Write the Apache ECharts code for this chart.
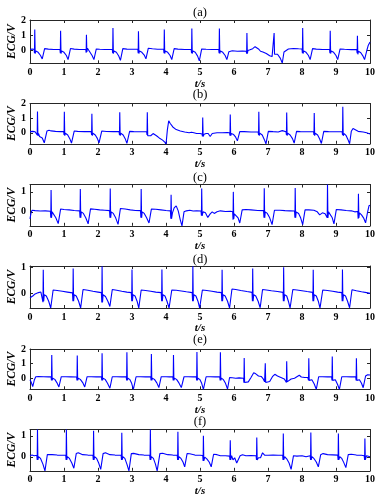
<!DOCTYPE html>
<html><head><meta charset="utf-8">
<script src="https://cdn.jsdelivr.net/npm/echarts@6/dist/echarts.min.js"></script>
<style>html,body{margin:0;padding:0;background:#fff}#c{width:382px;height:503px}</style>
</head><body><div id="c"></div>
<script>
// ---- data ----
const panelTitles = ['(a)', '(b)', '(c)', '(d)', '(e)', '(f)'];
const xTicks = [0, 1, 2, 3, 4, 5, 6, 7, 8, 9, 10];
const xName = 't/s';
const yName = 'ECG/V';
const yTicksA = [0, 1, 2];
const yTicksB = [0, 1, 2];
const yTicksC = [0, 1];
const yTicksD = [0, 1];
const yTicksE = [0, 1, 2];
const yTicksF = [0, 1];
const yRangeA = [-0.84, 2];
const yRangeB = [-0.75, 2];
const yRangeC = [-0.7, 1.37];
const yRangeD = [-0.56, 1.05];
const yRangeE = [-0.76, 2];
const yRangeF = [-0.67, 1.3];

const ecgA = [[0,0.07],[0.06,0.09],[0.12,0.08],[0.132,-0.18],[0.14,1.37],[0.152,-0.2],[0.17,-0.03],[0.24,-0.12],[0.31,-0.33],[0.36,-0.55],[0.43,0.12],[0.54,0.09],[0.7,0.07],[0.88,0.08],
[0.892,-0.18],[0.9,1.3],[0.912,-0.2],[0.93,-0.03],[1,-0.12],[1.07,-0.33],[1.12,-0.6],[1.19,0.13],[1.3,0.09],[1.45,0.07],[1.64,0.08],
[1.652,-0.15],[1.66,1.03],[1.672,-0.1],[1.69,0.15],[1.71,0.05],[1.76,-0.1],[1.83,-0.35],[1.88,-0.6],[1.95,0.1],[2.05,0.08],[2.2,0.07],[2.42,0.08],
[2.432,-0.18],[2.44,1.48],[2.452,-0.2],[2.47,-0.03],[2.54,-0.12],[2.61,-0.36],[2.66,-0.65],[2.73,0.12],[2.85,0.09],[3,0.08],[3.17,0.1],
[3.182,-0.18],[3.19,1.26],[3.202,-0.2],[3.22,-0.03],[3.29,-0.12],[3.36,-0.3],[3.41,-0.55],[3.48,0.15],[3.6,0.11],[3.75,0.08],[3.93,0.08],
[3.942,-0.18],[3.95,1.37],[3.962,-0.2],[3.98,-0.03],[4.05,-0.12],[4.12,-0.33],[4.17,-0.6],[4.24,0.12],[4.35,0.09],[4.55,0.07],[4.74,0.08],
[4.752,-0.18],[4.76,1.44],[4.772,-0.2],[4.79,-0.03],[4.86,-0.12],[4.93,-0.37],[4.98,-0.68],[5.05,0.1],[5.18,0.08],[5.35,0.07],[5.55,0.08],
[5.562,-0.18],[5.57,1.44],[5.582,-0.2],[5.6,-0.03],[5.67,-0.12],[5.74,-0.33],[5.79,-0.6],[5.85,-0.08],[5.95,-0.02],[6.1,-0.05],[6.25,-0.03],[6.36,-0.05],
[6.372,-0.2],[6.38,1.15],[6.392,-0.2],[6.41,0],[6.47,0.05],[6.55,0.12],[6.62,0.25],[6.67,0.24],[6.72,0.1],[6.78,-0.05],[6.85,-0.1],[6.95,-0.2],[7.05,-0.35],[7.12,-0.4],[7.16,-0.38],
[7.172,-0.45],[7.18,1.15],[7.192,-0.25],[7.21,-0.15],[7.28,-0.25],[7.36,-0.5],[7.42,-0.82],[7.47,-0.1],[7.52,0.03],[7.6,0.1],[7.75,0.13],[7.9,0.11],[8,0.1],
[8.012,-0.18],[8.02,1.48],[8.032,-0.2],[8.05,-0.03],[8.12,-0.12],[8.19,-0.33],[8.24,-0.6],[8.31,0.12],[8.42,0.09],[8.6,0.07],[8.81,0.08],
[8.822,-0.18],[8.83,1.3],[8.842,-0.2],[8.86,-0.03],[8.93,-0.12],[9,-0.33],[9.05,-0.6],[9.12,0.1],[9.25,0.08],[9.45,0.06],[9.61,0.07],
[9.622,-0.18],[9.63,0.97],[9.642,-0.25],[9.66,-0.05],[9.73,-0.15],[9.79,-0.35],[9.84,-0.6],[9.9,-0.05],[9.95,0.35],[10,0.55]];

const ecgB = [[0,0.08],[0.08,0.1],[0.15,0.07],[0.2,0.08],
[0.212,-0.15],[0.22,1.45],[0.232,-0.2],[0.25,-0.05],[0.28,-0.25],[0.3,-0.15],[0.36,-0.35],[0.42,-0.68],[0.5,0.13],[0.56,0.17],[0.62,0.13],[0.75,0.1],[0.9,0.08],[0.99,0.08],
[1.002,-0.15],[1.01,1.43],[1.022,-0.2],[1.04,-0.03],[1.11,-0.15],[1.17,-0.4],[1.22,-0.7],[1.3,0.12],[1.4,0.1],[1.6,0.08],[1.8,0.08],
[1.812,-0.15],[1.82,1.3],[1.832,-0.2],[1.85,-0.03],[1.92,-0.15],[1.98,-0.38],[2.03,-0.68],[2.11,0.12],[2.25,0.09],[2.45,0.08],[2.62,0.08],
[2.632,-0.15],[2.64,1.4],[2.652,-0.2],[2.67,-0.03],[2.74,-0.15],[2.8,-0.4],[2.85,-0.72],[2.93,0.1],[3.05,0.08],[3.25,0.07],[3.43,0.08],
[3.442,-0.15],[3.45,1.4],[3.462,-0.2],[3.5,-0.1],[3.55,-0.2],[3.62,-0.05],[3.67,-0.02],[3.72,-0.2],[3.8,-0.35],[3.9,-0.5],[3.97,-0.65],[4,-0.8],[4.04,0.2],[4.08,0.82],[4.12,0.65],[4.2,0.4],[4.3,0.22],[4.42,0.12],[4.55,0.05],[4.68,0],[4.75,0.04],[4.82,0],[4.9,-0.05],[5,-0.05],[5.06,-0.08],
[5.072,-0.25],[5.08,1.05],[5.092,-0.25],[5.12,-0.1],[5.18,-0.05],[5.24,-0.05],[5.3,-0.25],[5.36,-0.05],[5.5,0],[5.65,0],[5.8,0.02],[5.87,0],
[5.882,-0.2],[5.89,1.25],[5.902,-0.2],[5.92,-0.05],[5.99,-0.12],[6.05,-0.3],[6.1,-0.55],[6.17,0.08],[6.3,0.08],[6.5,0.06],[6.71,0.07],
[6.722,-0.15],[6.73,1.43],[6.742,-0.2],[6.76,-0.03],[6.83,-0.15],[6.89,-0.45],[6.94,-0.75],[7.01,0.1],[7.15,0.08],[7.3,0.06],[7.42,0.15],[7.47,0.06],[7.53,0.07],
[7.542,-0.15],[7.55,1.38],[7.562,-0.2],[7.58,-0.03],[7.65,-0.15],[7.72,-0.4],[7.77,-0.7],[7.84,0.1],[7.95,0.08],[8.15,0.07],[8.34,0.07],
[8.352,-0.15],[8.36,1.35],[8.372,-0.2],[8.39,-0.03],[8.46,-0.15],[8.52,-0.42],[8.57,-0.73],[8.64,0.1],[8.78,0.08],[9,0.07],[9.18,0.08],
[9.192,-0.15],[9.2,1.77],[9.212,-0.2],[9.24,-0.05],[9.3,-0.2],[9.35,-0.45],[9.4,-0.75],[9.45,0.1],[9.5,0.3],[9.55,0.22],[9.65,0.1],[9.8,0.05],[9.9,0],[10,-0.08]];

const ecgC = [[0,-0.35],[0.03,-0.05],[0.06,0.08],[0.15,0.06],[0.3,0.04],[0.45,0.05],[0.6,0.03],
[0.612,-0.3],[0.62,1.09],[0.632,-0.3],[0.65,0],[0.7,-0.05],[0.76,-0.3],[0.83,-0.59],[0.9,0.14],[1,0.12],[1.15,0.1],[1.3,0.07],[1.46,0.05],
[1.472,-0.3],[1.48,1.14],[1.492,-0.3],[1.51,0],[1.57,-0.08],[1.64,-0.3],[1.71,-0.6],[1.78,0.15],[1.9,0.13],[2.05,0.1],[2.2,0.08],[2.34,0.06],
[2.352,-0.3],[2.36,1.17],[2.372,-0.3],[2.39,0],[2.45,-0.08],[2.52,-0.3],[2.59,-0.63],[2.66,0.17],[2.8,0.14],[2.95,0.1],[3.1,0.07],[3.25,0.06],
[3.262,-0.3],[3.27,1.14],[3.282,-0.3],[3.3,0],[3.36,-0.08],[3.43,-0.3],[3.5,-0.56],[3.57,0.14],[3.7,0.13],[3.85,0.1],[4,0.07],[4.13,0.05],
[4.142,-0.35],[4.15,0.86],[4.162,-0.35],[4.19,-0.05],[4.24,0.2],[4.3,0.3],[4.36,0.05],[4.42,-0.4],[4.47,-0.7],[4.53,0],[4.6,0.05],[4.7,0.08],[4.8,0.04],[4.9,0.05],[5.03,0.04],
[5.042,-0.2],[5.05,1.17],[5.062,-0.2],[5.09,0],[5.16,-0.05],[5.23,-0.28],[5.3,-0.1],[5.36,0],[5.42,-0.08],[5.5,0],[5.6,0.05],[5.75,0.02],[5.9,0.03],[5.96,0],
[5.972,-0.4],[5.98,1],[5.992,-0.35],[6.01,-0.1],[6.06,-0.12],[6.12,-0.3],[6.17,-0.56],[6.24,0.1],[6.35,0.12],[6.5,0.1],[6.7,0.07],[6.87,0.06],
[6.882,-0.3],[6.89,1.18],[6.902,-0.3],[6.92,0],[6.98,-0.08],[7.05,-0.3],[7.12,-0.64],[7.19,0.08],[7.35,0.08],[7.5,0.06],[7.65,0.05],[7.78,0.04],
[7.792,-0.3],[7.8,1.2],[7.812,-0.3],[7.83,0],[7.9,-0.08],[7.96,-0.3],[8.02,-0.64],[8.09,0.1],[8.2,0.1],[8.35,0.08],[8.45,0],[8.52,-0.15],[8.6,-0.05],[8.68,-0.1],[8.73,-0.05],
[8.742,-0.3],[8.75,1.37],[8.762,-0.3],[8.78,0],[8.83,-0.08],[8.89,-0.3],[8.94,-0.6],[9.01,0.12],[9.15,0.1],[9.3,0.07],[9.45,0.05],[9.55,0],[9.64,0.02],
[9.652,-0.35],[9.66,0.9],[9.672,-0.3],[9.69,-0.05],[9.75,-0.15],[9.81,-0.3],[9.87,-0.55],[9.93,0],[9.97,0.3],[10,0.33]];

const ecgD = [[0,-0.17],[0.08,-0.1],[0.15,-0.02],[0.25,0.03],[0.32,0.05],[0.37,0.02],
[0.382,-0.34],[0.39,0.91],[0.402,-0.3],[0.42,-0.05],[0.48,-0.1],[0.55,-0.3],[0.61,-0.56],[0.68,0.13],[0.8,0.11],[0.95,0.08],[1.1,0.05],[1.25,0.02],
[1.262,-0.3],[1.27,0.95],[1.282,-0.3],[1.3,-0.05],[1.36,-0.1],[1.43,-0.3],[1.49,-0.56],[1.56,0.15],[1.7,0.12],[1.85,0.08],[2,0.05],[2.1,0.03],
[2.112,-0.35],[2.12,1.04],[2.132,-0.35],[2.15,-0.05],[2.22,-0.12],[2.29,-0.3],[2.35,-0.5],[2.42,0.15],[2.55,0.12],[2.7,0.08],[2.85,0.05],[2.98,0.03],
[2.992,-0.3],[3,0.92],[3.012,-0.3],[3.03,-0.05],[3.09,-0.1],[3.15,-0.3],[3.2,-0.56],[3.27,0.13],[3.4,0.11],[3.55,0.08],[3.7,0.05],[3.86,0.03],
[3.872,-0.3],[3.88,0.92],[3.892,-0.3],[3.91,-0.05],[3.97,-0.1],[4.03,-0.3],[4.09,-0.56],[4.17,0.13],[4.3,0.12],[4.45,0.09],[4.6,0.06],[4.77,0.03],
[4.782,-0.3],[4.79,1.04],[4.802,-0.3],[4.82,-0.05],[4.88,-0.1],[4.94,-0.3],[4.99,-0.56],[5.07,0.13],[5.2,0.11],[5.35,0.08],[5.5,0.05],[5.63,0.03],
[5.642,-0.3],[5.65,0.91],[5.662,-0.3],[5.68,-0.05],[5.74,-0.1],[5.81,-0.3],[5.87,-0.56],[5.94,0.17],[6.05,0.15],[6.2,0.11],[6.38,0.07],[6.53,0.04],
[6.542,-0.3],[6.55,0.95],[6.562,-0.3],[6.58,-0.05],[6.64,-0.1],[6.71,-0.3],[6.77,-0.55],[6.84,0.15],[6.95,0.13],[7.1,0.1],[7.28,0.07],[7.44,0.04],
[7.452,-0.3],[7.46,1],[7.472,-0.3],[7.49,-0.05],[7.55,-0.1],[7.6,-0.3],[7.65,-0.56],[7.73,0.15],[7.85,0.13],[8,0.1],[8.15,0.07],[8.31,0.04],
[8.322,-0.3],[8.33,0.91],[8.342,-0.3],[8.36,-0.05],[8.42,-0.1],[8.48,-0.3],[8.53,-0.56],[8.61,0.13],[8.75,0.11],[8.9,0.08],[9.05,0.05],[9.17,0.03],
[9.182,-0.3],[9.19,0.92],[9.202,-0.3],[9.22,-0.05],[9.28,-0.1],[9.34,-0.3],[9.4,-0.55],[9.47,0.14],[9.6,0.1],[9.75,0.06],[9.9,0.03],[10,0]];

const ecgE = [[0,-0.1],[0.04,-0.3],[0.08,-0.57],[0.13,-0.1],[0.17,0.1],[0.25,0.12],[0.4,0.1],[0.55,0.09],[0.62,0.1],
[0.632,-0.15],[0.64,1.59],[0.652,-0.15],[0.67,0],[0.73,-0.08],[0.79,-0.3],[0.85,-0.6],[0.92,0.1],[1.05,0.1],[1.2,0.09],[1.37,0.08],
[1.382,-0.15],[1.39,1.55],[1.402,-0.15],[1.42,0],[1.48,-0.08],[1.55,-0.3],[1.61,-0.6],[1.68,0.1],[1.8,0.1],[1.95,0.09],[2.1,0.1],
[2.112,-0.15],[2.12,1.7],[2.132,-0.15],[2.15,0],[2.21,-0.08],[2.28,-0.35],[2.35,-0.68],[2.42,0.1],[2.55,0.1],[2.7,0.09],[2.83,0.1],
[2.842,-0.15],[2.85,1.77],[2.862,-0.15],[2.88,0],[2.94,-0.1],[2.99,-0.35],[3.04,-0.76],[3.12,0.1],[3.25,0.1],[3.4,0.09],[3.55,0.1],
[3.562,-0.15],[3.57,1.66],[3.582,-0.15],[3.6,0],[3.66,-0.08],[3.73,-0.32],[3.79,-0.64],[3.86,0.1],[4,0.1],[4.1,0.09],[4.2,0.1],
[4.212,-0.15],[4.22,1.59],[4.232,-0.15],[4.25,0],[4.31,-0.08],[4.38,-0.32],[4.45,-0.64],[4.53,0.1],[4.65,0.1],[4.8,0.09],[4.89,0.1],
[4.902,-0.15],[4.91,1.8],[4.922,-0.15],[4.94,0],[5,-0.1],[5.05,-0.35],[5.1,-0.76],[5.18,0.1],[5.3,0.1],[5.45,0.09],[5.58,0.1],
[5.592,-0.15],[5.6,1.77],[5.612,-0.15],[5.63,0],[5.69,-0.1],[5.75,-0.35],[5.81,-0.74],[5.87,0.05],[5.95,0.03],[6.05,0],[6.15,0.02],[6.28,0],
[6.292,-0.3],[6.3,1.38],[6.312,-0.3],[6.35,-0.22],[6.42,-0.25],[6.5,0.05],[6.58,0.37],[6.64,0.3],[6.72,0.15],[6.8,0.12],[6.86,-0.05],[6.9,-0.25],
[6.912,-0.3],[6.92,1.02],[6.932,-0.3],[6.98,-0.2],[7.05,-0.22],[7.13,0.1],[7.2,0.27],[7.28,0.15],[7.38,0.05],[7.48,-0.05],[7.53,-0.15],
[7.542,-0.3],[7.55,1.16],[7.562,-0.25],[7.6,-0.15],[7.68,-0.05],[7.78,0],[7.85,0.1],[7.92,0.2],[7.98,0.08],[8.08,0.05],[8.17,0.05],
[8.192,-0.15],[8.2,1.36],[8.212,-0.15],[8.23,-0.02],[8.29,-0.1],[8.36,-0.4],[8.42,-0.76],[8.49,0.1],[8.6,0.1],[8.75,0.09],[8.87,0.1],
[8.882,-0.15],[8.89,1.48],[8.902,-0.15],[8.92,-0.02],[8.98,-0.1],[9.04,-0.4],[9.1,-0.76],[9.17,0.1],[9.3,0.1],[9.45,0.09],[9.58,0.1],
[9.592,-0.15],[9.6,1.36],[9.612,-0.15],[9.63,-0.02],[9.69,-0.1],[9.75,-0.35],[9.8,-0.65],[9.87,0.15],[9.93,0.24],[10,0.22]];

const ecgF = [[0,0.05],[0.06,0.08],[0.12,0.05],[0.2,0.07],
[0.212,-0.15],[0.22,1.3],[0.232,-0.15],[0.25,0],[0.31,-0.08],[0.38,-0.35],[0.44,-0.67],[0.51,0.1],[0.56,0.16],[0.65,0.1],[0.8,0.08],[0.95,0.07],[1.05,0.08],
[1.062,-0.15],[1.07,1.3],[1.082,-0.15],[1.1,0],[1.16,-0.08],[1.23,-0.3],[1.29,-0.55],[1.36,0.15],[1.42,0.19],[1.55,0.1],[1.7,0.08],[1.85,0.07],
[1.862,-0.15],[1.87,1.24],[1.882,-0.15],[1.9,0],[1.96,-0.08],[2.02,-0.3],[2.08,-0.6],[2.15,0.15],[2.22,0.19],[2.35,0.1],[2.5,0.08],[2.68,0.07],
[2.692,-0.15],[2.7,1.14],[2.712,-0.15],[2.73,0],[2.79,-0.08],[2.85,-0.35],[2.91,-0.67],[2.98,0.15],[3.05,0.16],[3.2,0.1],[3.35,0.08],[3.52,0.07],
[3.532,-0.15],[3.54,1.3],[3.552,-0.15],[3.57,0],[3.63,-0.08],[3.69,-0.35],[3.74,-0.67],[3.82,0.15],[3.9,0.17],[4.05,0.1],[4.2,0.08],[4.33,0.07],
[4.342,-0.15],[4.35,1.19],[4.362,-0.15],[4.38,0],[4.44,-0.08],[4.5,-0.25],[4.55,-0.48],[4.62,0.15],[4.7,0.14],[4.85,0.08],[5,0.07],[5.08,0.06],
[5.092,-0.2],[5.1,1],[5.112,-0.2],[5.14,-0.02],[5.2,-0.1],[5.27,-0.25],[5.33,-0.48],[5.4,0.12],[5.5,0.1],[5.6,0.05],[5.75,0.05],[5.87,0.03],
[5.882,-0.15],[5.89,0.79],[5.902,-0.15],[5.93,0.05],[5.97,-0.15],[6.02,-0.05],[6.08,-0.3],[6.12,-0.35],[6.18,0.05],[6.25,0.1],[6.35,0.05],[6.5,0.06],[6.65,0.05],
[6.662,-0.15],[6.67,0.92],[6.682,-0.15],[6.72,-0.05],[6.78,-0.05],[6.84,0.19],[6.9,0.08],[7,0.07],[7.15,0.08],[7.3,0.07],[7.43,0.08],
[7.442,-0.15],[7.45,1.11],[7.462,-0.15],[7.49,0],[7.55,-0.1],[7.62,-0.3],[7.68,-0.6],[7.75,0.05],[7.85,0.03],[8,0.05],[8.12,0],[8.24,0.05],
[8.252,-0.15],[8.26,1.16],[8.272,-0.15],[8.29,0],[8.35,-0.08],[8.42,-0.25],[8.48,-0.48],[8.55,0.1],[8.62,0.15],[8.75,0.1],[8.9,0.09],[9.05,0.08],
[9.062,-0.15],[9.07,1.11],[9.082,-0.15],[9.11,0],[9.17,-0.08],[9.23,-0.28],[9.29,-0.52],[9.36,0.1],[9.45,0.12],[9.6,0.08],[9.75,0.07],[9.83,0.05],
[9.842,-0.15],[9.85,0.87],[9.862,-0.15],[9.9,0.05],[9.95,0.07],[10,0]];

// ---- layout ----
const panels = [
  { data: ecgA, ticks: yTicksA, range: yRangeA, top: 20,    height: 43.3, titleY: 6.5 },
  { data: ecgB, ticks: yTicksB, range: yRangeB, top: 103.5, height: 40.3, titleY: 88.5 },
  { data: ecgC, ticks: yTicksC, range: yRangeC, top: 184.5, height: 41.3, titleY: 171.5 },
  { data: ecgD, ticks: yTicksD, range: yRangeD, top: 266,   height: 42,   titleY: 253.5 },
  { data: ecgE, ticks: yTicksE, range: yRangeE, top: 349,   height: 40.3, titleY: 333.5 },
  { data: ecgF, ticks: yTicksF, range: yRangeF, top: 429.5, height: 41.3, titleY: 415 }
];
const LEFT = 30, WIDTH = 340;
const AX = '#262626';
const SERIF = '"Liberation Serif","Times New Roman",serif';

const grid = [], xAxis = [], yAxis = [], series = [], title = [];
panels.forEach((p, i) => {
  grid.push({ left: LEFT, top: p.top, width: WIDTH, height: p.height, containLabel: false, outerBoundsMode: 'none' });
  title.push({ text: panelTitles[i], left: LEFT + WIDTH / 2, top: p.titleY, textAlign: 'center', padding: 0,
    textStyle: { fontFamily: SERIF, fontSize: 12.5, fontWeight: 'normal', color: '#000' } });
  const xCommon = { type: 'value', gridIndex: i, min: xTicks[0], max: xTicks[xTicks.length - 1], interval: 1,
    splitLine: { show: false }, axisLine: { show: true, onZero: false, lineStyle: { color: AX, width: 1 } },
    axisTick: { show: true, inside: true, length: 3, lineStyle: { color: AX } } };
  xAxis.push(Object.assign({}, xCommon, { position: 'bottom',
    axisLabel: { show: true, margin: 4, color: '#000', fontFamily: SERIF, fontWeight: 'bold', fontSize: 10,
      customValues: xTicks },
    name: xName, nameLocation: 'middle', nameGap: 15, nameMoveOverlap: false,
    nameTextStyle: { fontFamily: SERIF, fontStyle: 'italic', fontWeight: 'bold', fontSize: 11, color: '#000' } }));
  xAxis.push(Object.assign({}, xCommon, { position: 'top', axisLabel: { show: false } }));
  const yCommon = { type: 'value', gridIndex: i, min: p.range[0], max: p.range[1],
    splitLine: { show: false }, axisLine: { show: true, onZero: false, lineStyle: { color: AX, width: 1 } },
    axisTick: { show: true, inside: true, length: 3, lineStyle: { color: AX }, customValues: p.ticks } };
  yAxis.push(Object.assign({}, yCommon, { position: 'left',
    axisLabel: { show: true, margin: 4, color: '#000', fontFamily: SERIF, fontWeight: 'bold', fontSize: 10,
      customValues: p.ticks },
    name: yName, nameLocation: 'middle', nameGap: 12, nameMoveOverlap: false,
    nameTextStyle: { fontFamily: SERIF, fontStyle: 'italic', fontWeight: 'bold', fontSize: 11.5, color: '#000' } }));
  yAxis.push(Object.assign({}, yCommon, { position: 'right', axisLabel: { show: false } }));
  series.push({ type: 'line', xAxisIndex: 2 * i, yAxisIndex: 2 * i, data: p.data, showSymbol: false, symbol: 'none',
    lineStyle: { color: '#0000ff', width: 1.1 }, clip: true, silent: true });
});

const chart = echarts.init(document.getElementById('c'), null, { renderer: 'canvas' });
chart.setOption({ animation: false, backgroundColor: '#fff', title, grid, xAxis, yAxis, series });
</script>
</body></html>
